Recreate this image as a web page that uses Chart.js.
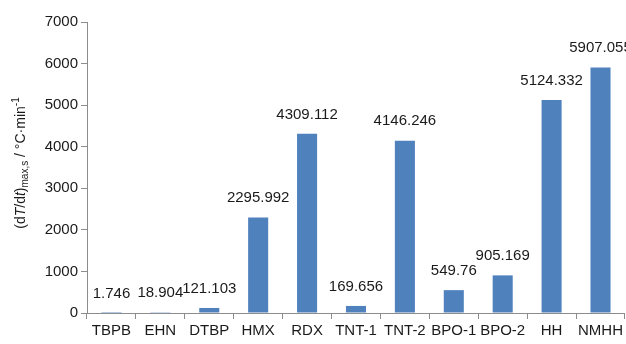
<!DOCTYPE html>
<html>
<head>
<meta charset="utf-8">
<script src="https://cdn.jsdelivr.net/npm/chart.js@4/dist/chart.umd.min.js"></script>
<style>
  html, body { margin: 0; padding: 0; background: #fff; }
  #wrap { width: 626px; height: 344px; position: relative; }
</style>
</head>
<body>
<div id="wrap"><canvas id="c"></canvas></div>
<script>
// data
const samples = ['TBPB', 'EHN', 'DTBP', 'HMX', 'RDX', 'TNT-1', 'TNT-2', 'BPO-1', 'BPO-2', 'HH', 'NMHH'];
const maxRate = [1.746, 18.904, 121.103, 2295.992, 4309.112, 169.656, 4146.246, 549.76, 905.169, 5124.332, 5907.055];
const yTicks = [0, 1000, 2000, 3000, 4000, 5000, 6000, 7000];

const FONT = "'Liberation Sans', Arial, sans-serif";
const INK = '#1a1a1a';

/* value labels above bars */
const valueLabels = {
  id: 'valueLabels',
  afterDatasetsDraw(chart) {
    const ctx = chart.ctx;
    const meta = chart.getDatasetMeta(0);
    ctx.save();
    ctx.fillStyle = INK;
    ctx.font = '15px ' + FONT;
    ctx.textAlign = 'center';
    ctx.textBaseline = 'bottom';
    meta.data.forEach((bar, i) => {
      ctx.fillText(String(maxRate[i]), bar.x, bar.y - 12);
    });
    ctx.restore();
  }
};

/* rotated y title with italics, subscript and superscript */
const yTitle = {
  id: 'yTitle',
  afterDraw(chart) {
    const ctx = chart.ctx;
    const parts = [
      ['(d', 'n'], ['T', 'i'], ['/d', 'n'], ['t', 'i'], [')', 'n'],
      ['max,s', 'sub'], [' / °C·min', 'n'], ['-1', 'sup']
    ];
    const fontFor = k => (k === 'i' ? 'italic ' : '') + (k === 'sub' || k === 'sup' ? '10px ' : '14px ') + FONT;
    ctx.save();
    let total = 0;
    parts.forEach(([t, k]) => { ctx.font = fontFor(k); total += ctx.measureText(t).width; });
    ctx.translate(25, 163);
    ctx.rotate(-Math.PI / 2);
    ctx.fillStyle = INK;
    ctx.textBaseline = 'alphabetic';
    let x = -total / 2;
    parts.forEach(([t, k]) => {
      ctx.font = fontFor(k);
      const dy = k === 'sub' ? 3 : (k === 'sup' ? -6 : 0);
      ctx.fillText(t, x, dy);
      x += ctx.measureText(t).width;
    });
    ctx.restore();
  }
};

new Chart(document.getElementById('c'), {
  type: 'bar',
  data: {
    labels: samples,
    datasets: [{
      data: maxRate,
      backgroundColor: '#4f81bd',
      barPercentage: 0.41,
      categoryPercentage: 1
    }]
  },
  options: {
    responsive: true, maintainAspectRatio: false,
    animation: false,
    layout: { padding: { top: 22, right: 0, bottom: 0, left: 0 } },
    plugins: { legend: { display: false }, tooltip: { enabled: false } },
    scales: {
      x: {
        grid: { display: true, drawOnChartArea: false, drawTicks: true, tickLength: 6, color: '#8c8c8c', offset: true },
        border: { color: '#8c8c8c', width: 1 },
        ticks: { color: INK, font: { family: FONT, size: 15 }, padding: 3, maxRotation: 0, autoSkip: false },
        afterFit: s => { s.height = 31; }
      },
      y: {
        min: 0, max: 7000,
        afterBuildTicks: s => { s.ticks = yTicks.map(v => ({ value: v })); },
        grid: { display: true, drawOnChartArea: false, drawTicks: true, tickLength: 6, color: '#8c8c8c' },
        border: { color: '#8c8c8c', width: 1 },
        ticks: { color: INK, font: { family: FONT, size: 15 }, padding: 3, callback: v => String(v) },
        afterFit: s => { s.width = 87; }
      }
    }
  },
  plugins: [valueLabels, yTitle]
});
</script>
</body>
</html>
